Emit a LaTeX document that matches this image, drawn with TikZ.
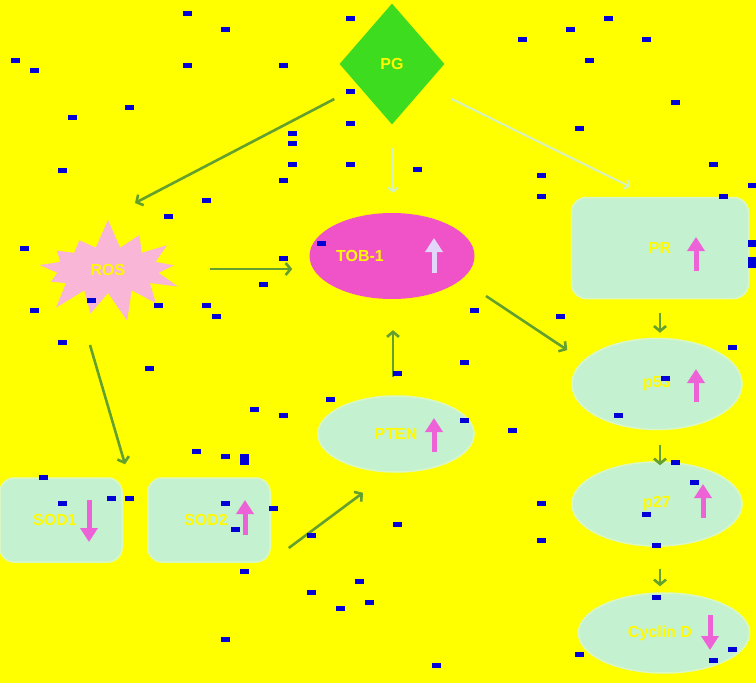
\documentclass[tikz,border=0pt]{standalone}
\usepackage{fontspec}
\setmainfont{Liberation Sans}
\usetikzlibrary{shapes.geometric,shapes.symbols,arrows.meta}

\definecolor{bgyellow}{RGB}{255,255,0}
\definecolor{pggreen}{RGB}{62,220,30}
\definecolor{rospink}{RGB}{249,182,215}
\definecolor{tobmagenta}{RGB}{240,82,200}
\definecolor{mint}{RGB}{196,241,208}
\definecolor{mintedge}{RGB}{218,248,196}
\definecolor{arrgreen}{RGB}{100,160,45}
\definecolor{palegreen}{RGB}{214,242,190}
\definecolor{uppink}{RGB}{238,98,216}
\definecolor{paleviolet}{RGB}{226,214,250}
\definecolor{noiseblue}{RGB}{0,0,215}
\definecolor{txtyellow}{RGB}{255,250,0}

\begin{document}
\begin{tikzpicture}[x=1pt, y=-1pt, node distance=125pt,
    every node/.style={font=\fontsize{16}{18}\selectfont\bfseries, text=txtyellow, align=center, inner sep=0pt},
    mintbox/.style={rectangle, rounded corners=14pt, fill=mint, draw=mintedge, line width=1.5pt},
    mintoval/.style={ellipse, fill=mint, draw=mintedge, line width=1.5pt},
    arr/.style={draw=arrgreen, line width=2.6pt, -{Straight Barb[length=5pt,width=12pt]}},
    palearr/.style={draw=palegreen, line width=2pt, -{Straight Barb[length=4pt,width=10pt]}},
    uparr/.style={draw=uppink, line width=5pt, -{Triangle[width=17pt,length=14pt]}}]
        % Background
        \useasboundingbox (0,0) rectangle (756,683);
        \fill[bgyellow] (0,0) rectangle (756,683);

        % Nodes
        \node (PG) [diamond, fill=pggreen, minimum width=105pt, minimum height=121pt] at (392,64) {PG};
        \node (ROS) [starburst, fill=rospink, starburst points=13, starburst point height=30pt, random starburst=7, minimum width=162pt, minimum height=106pt] at (108,270) {ROS};
        \node (TOB) [ellipse, fill=tobmagenta, minimum width=165pt, minimum height=86pt, below of=PG, yshift=-67pt] {TOB-1\hspace*{64pt}};
        \node (PR) [mintbox, rounded corners=15pt, minimum width=177pt, minimum height=101pt] at (660,248) {PR};
        \node (p53) [mintoval, minimum width=170pt, minimum height=91pt, below of=PR, xshift=-3pt, yshift=-11pt] {p53};
        \node (p27) [mintoval, minimum width=170pt, minimum height=84pt, below of=p53, yshift=5pt] {p27};
        \node (CycD) [mintoval, minimum width=171pt, minimum height=80pt, below of=p27, xshift=7pt, yshift=-4pt] {Cyclin D\hspace*{8pt}};
        \node (PTEN) [mintoval, minimum width=156pt, minimum height=76pt, below of=TOB, xshift=4pt, yshift=-53pt] {PTEN};
        \node (SOD1) [mintbox, minimum width=122pt, minimum height=84pt] at (61,520) {SOD1\hspace*{12pt}};
        \node (SOD2) [mintbox, minimum width=122pt, minimum height=84pt, right of=SOD1, xshift=23pt] {SOD2\hspace*{6pt}};

        % Up and down marks
        \draw[uparr, draw=paleviolet] ([shift={(42,17)}]TOB.center) -- ([shift={(42,-18)}]TOB.center);
        \draw[uparr] ([shift={(36,23)}]PR.center) -- ([shift={(36,-11)}]PR.center);
        \draw[uparr] ([shift={(39,18)}]p53.center) -- ([shift={(39,-15)}]p53.center);
        \draw[uparr] ([shift={(46,14)}]p27.center) -- ([shift={(46,-20)}]p27.center);
        \draw[uparr] ([shift={(46,-18)}]CycD.center) -- ([shift={(46,17)}]CycD.center);
        \draw[uparr] ([shift={(38,18)}]PTEN.center) -- ([shift={(38,-16)}]PTEN.center);
        \draw[uparr] ([shift={(28,-20)}]SOD1.center) -- ([shift={(28,22)}]SOD1.center);
        \draw[uparr] ([shift={(36,15)}]SOD2.center) -- ([shift={(36,-20)}]SOD2.center);

        % Arrows
        \draw[arr] ([shift={(-5,35)}]PG.west) -- ([shift={(27,-67)}]ROS.center);
        \draw[palearr] ([shift={(1,23)}]PG.south) -- ([shift={(1,-20)}]TOB.north);
        \draw[palearr] ([shift={(7,35)}]PG.east) -- ([shift={(-30,-10)}]PR.north);
        \draw[arr] ([shift={(102,-1)}]ROS.center) -- ([shift={(-17,13)}]TOB.west);
        \draw[arr] ([shift={(-18,75)}]ROS.center) -- ([shift={(64,-13)}]SOD1.north);
        \draw[arr] ([shift={(94,40)}]TOB.center) -- ([shift={(-4,-34)}]p53.west);
        \draw[arr] ([shift={(-3,-18)}]PTEN.north) -- ([shift={(1,31)}]TOB.south);
        \draw[arr] ([shift={(18,28)}]SOD2.east) -- ([shift={(-33,20)}]PTEN.south);
        \draw[arr] ([shift={(0,14)}]PR.south) -- ([shift={(3,-5)}]p53.north);
        \draw[arr] ([shift={(3,15)}]p53.south) -- ([shift={(3,4)}]p27.north);
        \draw[arr] ([shift={(3,22)}]p27.south) -- ([shift={(-4,-6)}]CycD.north);

        % Blue specks
        \foreach \x/\y in {187/13, 225/29, 350/18, 608/18, 570/29, 522/39, 646/39, 15/60, 34/70, 187/65,
                283/65, 589/60, 350/91, 129/107, 72/117, 675/102, 350/123, 579/128, 292/133, 292/143,
                292/164, 350/164, 417/169, 62/170, 713/164, 541/175, 283/180, 541/196, 752/185, 723/196,
                206/200, 168/216, 24/248, 321/243, 283/258, 263/284, 91/300, 158/305, 206/305, 216/316,
                34/310, 474/310, 560/316, 62/342, 732/347, 149/368, 464/362, 397/373, 665/378, 330/399,
                254/409, 283/415, 618/415, 464/420, 512/430, 196/451, 225/456, 675/462, 43/477, 694/482,
                111/498, 129/498, 62/503, 225/503, 541/503, 273/508, 646/514, 397/524, 235/529, 311/535,
                541/540, 656/545, 244/571, 359/581, 311/592, 656/597, 369/602, 340/608, 225/639, 579/654,
                732/649, 713/660, 436/665}
            \fill[noiseblue] (\x-4.5,\y-2.5) rectangle ++(9,5);
        \fill[noiseblue] (239.5,453.5) rectangle ++(9,11);
        \fill[noiseblue] (747.5,256.5) rectangle ++(9,11);
        \fill[noiseblue] (747.5,239.5) rectangle ++(9,7);
    \end{tikzpicture}
\end{document}
